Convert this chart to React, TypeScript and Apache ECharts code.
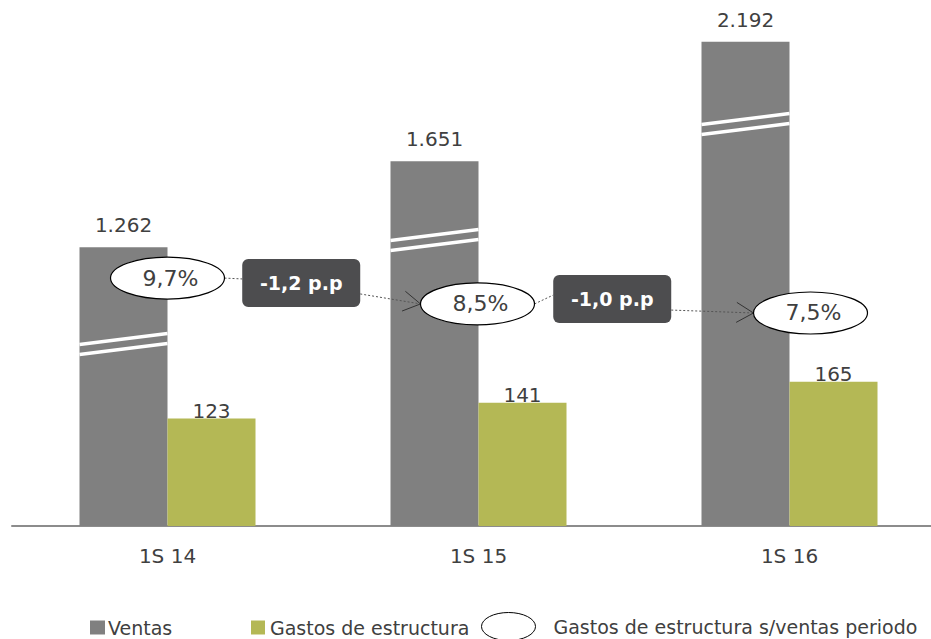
import React, { useEffect, useRef } from "react";
import * as echarts from "echarts";

const categories = ["1S 14", "1S 15", "1S 16"];
const ventas = [1262, 1651, 2192];
const gastos = [123, 141, 165];
const ratioLabels = ["9,7%", "8,5%", "7,5%"];
const changeLabels = ["-1,2 p.p", "-1,0 p.p"];
// positions of decorations, expressed on the Ventas scale
const breakAt = [824, 1294, 1819];
const ratioLevel = [1122, 1005, 964];
const changeLevel = [1100, 1027];

const FONT = "DejaVu Sans";
const TEXT = "#404040";
const GRAY = "#808080";
const GREEN = "#b4b855";
const BAR_W = 88;
const RATIO_SHIFT = [0, -1, 21];

const fmt = (v: number) => String(v).replace(/\B(?=(\d{3})+(?!\d))/g, ".");

export default function App() {
  const ref = useRef<HTMLDivElement>(null);
  useEffect(() => {
    if (!ref.current) return;
    const chart = echarts.init(ref.current, undefined, { renderer: "svg" });

    const breakItem = (params: any, api: any) => {
      const i = params.dataIndex;
      const p = api.coord([i, breakAt[i]]);
      const left = p[0] - BAR_W;
      const right = p[0];
      const children = [-5, 5].map((off) => ({
        type: "line",
        shape: { x1: left, y1: p[1] + off + 5.5, x2: right, y2: p[1] + off - 5.5 },
        style: { stroke: "#ffffff", lineWidth: 3.5 },
      }));
      return { type: "group", children };
    };

    const annItem = (params: any, api: any) => {
      const i = params.dataIndex;
      const p = api.coord([i, ratioLevel[i]]);
      const cx = p[0] + RATIO_SHIFT[i];
      const cy = p[1];
      const rx = 57;
      const ry = 21;
      const children: any[] = [];
      const dotted = { stroke: "#555555", lineWidth: 1, lineDash: [2, 2], fill: null };
      if (i < ratioLabels.length - 1) {
        const q = api.coord([i + 1, ratioLevel[i + 1]]);
        const qx = q[0] + RATIO_SHIFT[i + 1];
        const qy = q[1];
        const b = api.coord([i, changeLevel[i]]);
        const bx = p[0] + (q[0] - p[0]) * 0.43;
        const by = b[1];
        const bw = 118;
        const bh = 48;
        children.push({
          type: "line",
          shape: { x1: cx + rx, y1: cy, x2: bx - bw / 2, y2: by - 4 },
          style: dotted,
        });
        const sx = bx + bw / 2;
        const sy = by + 11;
        const tx = qx - rx;
        const ty = qy;
        children.push({
          type: "line",
          shape: { x1: sx, y1: sy, x2: tx, y2: ty },
          style: dotted,
        });
        const a = Math.atan2(ty - sy, tx - sx);
        const L = 17;
        const W = 10;
        const bxp = tx - L * Math.cos(a);
        const byp = ty - L * Math.sin(a);
        children.push({
          type: "polyline",
          shape: {
            points: [
              [bxp - W * Math.sin(a), byp + W * Math.cos(a)],
              [tx, ty],
              [bxp + W * Math.sin(a), byp - W * Math.cos(a)],
            ],
          },
          style: { stroke: "#333333", lineWidth: 1, fill: null },
        });
        children.push({
          type: "rect",
          shape: { x: bx - bw / 2, y: by - bh / 2, width: bw, height: bh, r: 6 },
          style: { fill: "#4d4d4f" },
        });
        children.push({
          type: "text",
          style: {
            text: changeLabels[i],
            x: bx,
            y: by,
            align: "center",
            verticalAlign: "middle",
            fill: "#ffffff",
            fontFamily: FONT,
            fontSize: 19,
            fontWeight: "bold",
          },
        });
      }
      children.push({
        type: "ellipse",
        shape: { cx, cy, rx, ry },
        style: { fill: "#ffffff", stroke: "#000000", lineWidth: 1.2 },
      });
      children.push({
        type: "text",
        style: {
          text: ratioLabels[i],
          x: cx + 3,
          y: cy,
          align: "center",
          verticalAlign: "middle",
          fill: TEXT,
          fontFamily: FONT,
          fontSize: 22,
        },
      });
      return { type: "group", children };
    };

    const legendText = { fontFamily: FONT, fontSize: 19, color: TEXT };

    chart.setOption({
      animation: false,
      textStyle: { fontFamily: FONT },
      grid: { left: 12, width: 933, top: 20, bottom: 113, outerBoundsMode: "none" },
      legend: [
        {
          data: ["Ventas"],
          left: 85,
          top: 613,
          icon: "rect",
          itemWidth: 15,
          itemHeight: 14,
          selectedMode: false,
          textStyle: { ...legendText, padding: [0, 0, 0, -2] },
        },
        {
          data: ["Gastos de estructura"],
          left: 246,
          top: 613,
          icon: "rect",
          itemWidth: 14,
          itemHeight: 14,
          selectedMode: false,
          textStyle: { ...legendText, padding: [0, 0, 0, 0] },
        },
        {
          data: [
            {
              name: "Gastos de estructura s/ventas periodo",
              icon: "path://M0,14a27,14 0 1,0 54,0a27,14 0 1,0 -54,0z",
              itemStyle: { color: "#ffffff", borderColor: "#000000", borderWidth: 1 },
            },
          ],
          left: 476,
          top: 607,
          itemWidth: 54,
          itemHeight: 28,
          selectedMode: false,
          textStyle: { ...legendText, padding: [0, 0, 0, 13] },
        },
      ],
      xAxis: {
        type: "category",
        data: categories,
        axisLine: { lineStyle: { color: "#8c8c8c", width: 2 } },
        axisTick: { show: false },
        axisLabel: { fontSize: 20, color: TEXT, fontFamily: FONT, margin: 20 },
      },
      yAxis: [
        { type: "value", min: 0, max: 2290, show: false, splitLine: { show: false } },
        { type: "value", min: 0, max: 579, show: false, splitLine: { show: false } },
      ],
      series: [
        {
          name: "Ventas",
          type: "bar",
          yAxisIndex: 0,
          data: ventas,
          barWidth: BAR_W,
          barGap: "0%",
          itemStyle: { color: GRAY },
          label: {
            show: true,
            position: "top",
            distance: 12,
            fontSize: 20,
            fontFamily: FONT,
            color: TEXT,
            formatter: (p: any) => fmt(p.value),
          },
        },
        {
          name: "Gastos de estructura",
          type: "bar",
          yAxisIndex: 1,
          data: gastos,
          barWidth: BAR_W,
          barGap: "0%",
          itemStyle: { color: GREEN },
          label: {
            show: true,
            position: "top",
            distance: -2,
            fontSize: 20,
            fontFamily: FONT,
            color: TEXT,
            formatter: (p: any) => fmt(p.value),
          },
        },
        {
          name: "breaks",
          type: "custom",
          yAxisIndex: 0,
          z: 5,
          silent: true,
          data: breakAt.map((v, i) => [i, v]),
          renderItem: breakItem,
        },
        {
          name: "Gastos de estructura s/ventas periodo",
          type: "custom",
          yAxisIndex: 0,
          z: 10,
          silent: true,
          itemStyle: { color: "#ffffff", borderColor: "#000000", borderWidth: 1 },
          data: ratioLevel.map((v, i) => [i, v]),
          renderItem: annItem,
        },
      ],
    });
    return () => chart.dispose();
  }, []);
  return (
    <div
      ref={ref}
      style={{ position: "absolute", left: 0, top: 0, width: 931, height: 639 }}
    />
  );
}
